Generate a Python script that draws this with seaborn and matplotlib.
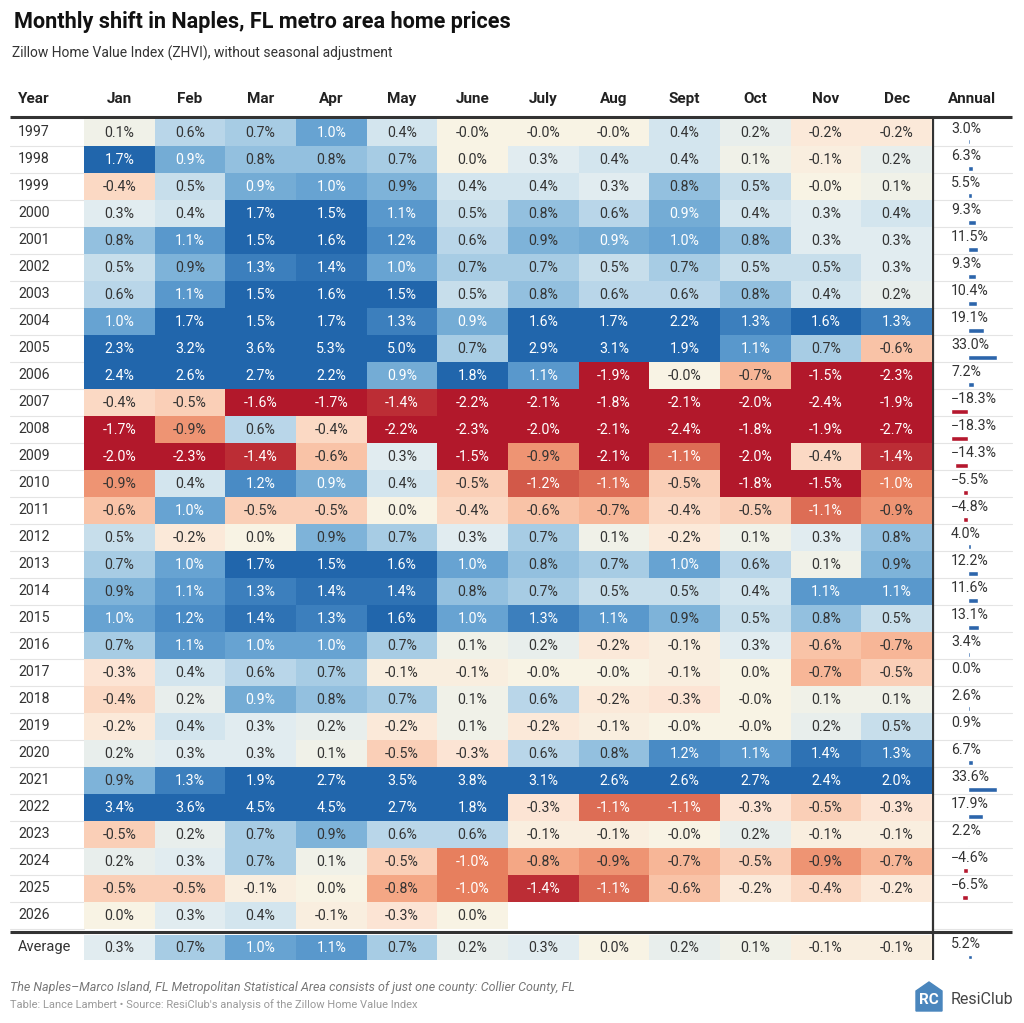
import numpy as np
import pandas as pd
import matplotlib.pyplot as plt
import seaborn as sns
from matplotlib.colors import LinearSegmentedColormap
from matplotlib.patches import Polygon

months = ['Jan', 'Feb', 'Mar', 'Apr', 'May', 'June', 'July', 'Aug', 'Sept', 'Oct', 'Nov', 'Dec']
years = list(range(1997, 2027))
nan = np.nan

# monthly % change, one list per year (Jan..Dec)
changes = [
    [0.1, 0.6, 0.7, 1.0, 0.4, -0.0, -0.0, -0.0, 0.4, 0.2, -0.2, -0.2],
    [1.7, 0.94, 0.8, 0.8, 0.7, 0.0, 0.3, 0.4, 0.4, 0.1, -0.1, 0.2],
    [-0.4, 0.5, 0.94, 1.0, 0.9, 0.4, 0.4, 0.3, 0.8, 0.5, -0.0, 0.1],
    [0.3, 0.4, 1.7, 1.5, 1.1, 0.5, 0.8, 0.6, 0.94, 0.4, 0.3, 0.4],
    [0.8, 1.1, 1.5, 1.6, 1.2, 0.6, 0.9, 0.94, 1.0, 0.8, 0.3, 0.3],
    [0.5, 0.9, 1.3, 1.4, 1.0, 0.7, 0.7, 0.5, 0.7, 0.5, 0.5, 0.3],
    [0.6, 1.1, 1.5, 1.6, 1.5, 0.5, 0.8, 0.6, 0.6, 0.8, 0.4, 0.2],
    [1.0, 1.7, 1.5, 1.7, 1.3, 0.94, 1.6, 1.7, 2.2, 1.3, 1.6, 1.3],
    [2.3, 3.2, 3.6, 5.3, 5.0, 0.7, 2.9, 3.1, 1.9, 1.1, 0.7, -0.6],
    [2.4, 2.6, 2.7, 2.2, 0.94, 1.8, 1.1, -1.9, -0.0, -0.7, -1.5, -2.3],
    [-0.4, -0.5, -1.6, -1.7, -1.4, -2.2, -2.1, -1.8, -2.1, -2.0, -2.4, -1.9],
    [-1.7, -0.9, 0.6, -0.4, -2.2, -2.3, -2.0, -2.1, -2.4, -1.8, -1.9, -2.7],
    [-2.0, -2.3, -1.4, -0.6, 0.3, -1.5, -0.9, -2.1, -1.1, -2.0, -0.4, -1.4],
    [-0.9, 0.4, 1.2, 0.94, 0.4, -0.5, -1.2, -1.1, -0.5, -1.8, -1.5, -1.0],
    [-0.6, 1.0, -0.5, -0.5, 0.0, -0.4, -0.6, -0.7, -0.4, -0.5, -1.1, -0.9],
    [0.5, -0.2, 0.0, 0.9, 0.7, 0.3, 0.7, 0.1, -0.2, 0.1, 0.3, 0.8],
    [0.7, 1.0, 1.7, 1.5, 1.6, 1.0, 0.8, 0.7, 1.0, 0.6, 0.1, 0.9],
    [0.9, 1.1, 1.3, 1.4, 1.4, 0.8, 0.7, 0.5, 0.5, 0.4, 1.1, 1.1],
    [1.0, 1.2, 1.4, 1.3, 1.6, 1.0, 1.3, 1.1, 0.9, 0.5, 0.8, 0.5],
    [0.7, 1.1, 1.0, 1.0, 0.7, 0.1, 0.2, -0.2, -0.1, 0.3, -0.6, -0.7],
    [-0.3, 0.4, 0.6, 0.7, -0.1, -0.1, -0.0, -0.0, -0.1, 0.0, -0.7, -0.5],
    [-0.4, 0.2, 0.94, 0.8, 0.7, 0.1, 0.6, -0.2, -0.3, -0.0, 0.1, 0.1],
    [-0.2, 0.4, 0.3, 0.2, -0.2, 0.1, -0.2, -0.1, -0.0, -0.0, 0.2, 0.5],
    [0.2, 0.3, 0.3, 0.1, -0.5, -0.3, 0.6, 0.8, 1.2, 1.1, 1.4, 1.3],
    [0.9, 1.3, 1.9, 2.7, 3.5, 3.8, 3.1, 2.6, 2.6, 2.7, 2.4, 2.0],
    [3.4, 3.6, 4.5, 4.5, 2.7, 1.8, -0.3, -1.1, -1.1, -0.3, -0.5, -0.3],
    [-0.5, 0.2, 0.7, 0.9, 0.6, 0.6, -0.1, -0.1, -0.0, 0.2, -0.1, -0.1],
    [0.2, 0.3, 0.7, 0.1, -0.5, -1.0, -0.8, -0.9, -0.7, -0.5, -0.9, -0.7],
    [-0.5, -0.5, -0.1, 0.0, -0.8, -1.0, -1.4, -1.1, -0.6, -0.2, -0.4, -0.2],
    [0.0, 0.3, 0.4, -0.1, -0.3, 0.0, nan, nan, nan, nan, nan, nan],
]
annual = [3.0, 6.3, 5.5, 9.3, 11.5, 9.3, 10.4, 19.1, 33.0, 7.2, -18.3, -18.3, -14.3,
          -5.5, -4.8, 4.0, 12.2, 11.6, 13.1, 3.4, 0.0, 2.6, 0.9, 6.7, 33.6, 17.9,
          2.2, -4.6, -6.5, nan]
average = [0.3, 0.7, 1.0, 1.1, 0.7, 0.2, 0.3, 0.0, 0.2, 0.1, -0.1, -0.1]
average_annual = 5.2

W, H = 1024, 1023
TXT = '#333333'
BLUE, RED = '#2c65ab', '#b5172e'

cmap = LinearSegmentedColormap.from_list('rdbu_cream', [
    ((-1.5 + 1.5) / 3, '#b2182b'), ((-1.2 + 1.5) / 3, '#d35a4a'),
    ((-1.0 + 1.5) / 3, '#e8805f'), ((-0.8 + 1.5) / 3, '#f4a886'),
    ((-0.6 + 1.5) / 3, '#f9c4a8'), ((-0.3 + 1.5) / 3, '#fce4d4'),
    ((0.0 + 1.5) / 3, '#f8f3e4'), ((0.3 + 1.5) / 3, '#e1ecf0'),
    ((0.6 + 1.5) / 3, '#bad7e9'), ((0.8 + 1.5) / 3, '#94c1df'),
    ((1.0 + 1.5) / 3, '#68a4d2'), ((1.2 + 1.5) / 3, '#4a8cc5'),
    ((1.5 + 1.5) / 3, '#2166ac')])

sns.set_style('white')
plt.rcParams['font.family'] = ['Roboto', 'DejaVu Sans']

fig = plt.figure(figsize=(W / 100, H / 100), dpi=100)
bg = fig.add_axes([0, 0, 1, 1])
bg.set_xlim(0, W)
bg.set_ylim(H, 0)
bg.axis('off')


def add_ax(x0, y0, x1, y1):
    a = fig.add_axes([x0 / W, 1 - y1 / H, (x1 - x0) / W, (y1 - y0) / H])
    a.patch.set_alpha(0)
    return a


def fmt(v):
    return f'{v:.1f}%'


TOP, ROW = 118.5, 27.0
X0, X1 = 84, 932
n = len(years)
bottom = TOP + ROW * n

# titles
bg.text(14, 22, 'Monthly shift in Naples, FL metro area home prices', fontsize=15.6,
        fontweight='bold', color='#111111', va='center')
bg.text(12, 53, 'Zillow Home Value Index (ZHVI), without seasonal adjustment',
        fontsize=10, color=TXT, va='center')

# header
colw = (X1 - X0) / 12
bg.text(18, 99, 'Year', fontsize=11, fontweight='bold', color='#222222', va='center')
for j, m in enumerate(months):
    bg.text(X0 + colw * (j + 0.5), 99, m, fontsize=11, fontweight='bold',
            color='#222222', ha='center', va='center')
bg.text(972, 99, 'Annual', fontsize=11, fontweight='bold', color='#222222',
        ha='center', va='center')

# faint row separators
for k in range(1, n + 1):
    y = TOP + ROW * k
    bg.plot([10, X0], [y, y], color='#e4e4e4', lw=0.8)
    bg.plot([933, 1012], [y, y], color='#e4e4e4', lw=0.8)

# heatmap body
df = pd.DataFrame(changes, index=years, columns=months)
hm = add_ax(X0, TOP, X1, bottom)
sns.heatmap(df, ax=hm, cmap=cmap, vmin=-1.5, vmax=1.5, cbar=False,
            xticklabels=False, yticklabels=False)
hm.set_xlabel('')
hm.set_ylabel('')
for i in range(n):
    for j in range(12):
        v = df.iloc[i, j]
        if np.isnan(v):
            continue
        c = 'white' if abs(v) >= 0.93 else TXT
        hm.text(j + 0.5, i + 0.52, fmt(v), ha='center', va='center', fontsize=10.2, color=c)

for i, y in enumerate(years):
    bg.text(18, TOP + ROW * (i + 0.5), str(y), fontsize=10.2, color=TXT, va='center')

# average row
AV0, AV1 = 935, 960
avg_df = pd.DataFrame([average], index=['Average'], columns=months)
av = add_ax(X0, AV0, X1, AV1)
sns.heatmap(avg_df, ax=av, cmap=cmap, vmin=-1.5, vmax=1.5, cbar=False,
            xticklabels=False, yticklabels=False)
av.set_xlabel('')
av.set_ylabel('')
for j, v in enumerate(average):
    c = 'white' if abs(v) >= 0.93 else TXT
    av.text(j + 0.5, 0.5, fmt(v), ha='center', va='center', fontsize=10.2, color=c)
bg.text(18, (AV0 + AV1) / 2, 'Average', fontsize=10.5, color=TXT, va='center')

# annual column: text + small bars
XA0, XA1, ZERO, PXPCT = 940, 1012, 967.5, 0.88
xlim = (-(ZERO - XA0) / PXPCT, (XA1 - ZERO) / PXPCT)
ann_df = pd.DataFrame({'year': [str(y) for y in years], 'annual': annual}).dropna()
ann_df['sign'] = np.where(ann_df['annual'] < 0, 'neg', 'pos')
aa = add_ax(XA0, TOP, XA1, bottom)
sns.barplot(data=ann_df, x='annual', y='year', hue='sign', order=[str(y) for y in years],
            palette={'pos': BLUE, 'neg': RED}, orient='h', width=0.17, dodge=False,
            saturation=1, legend=False, ax=aa)
aa.set_xlim(*xlim)
aa.set_ylim(n - 1 + 0.15, -0.85)
aa.axis('off')
for i, v in enumerate(annual):
    if np.isnan(v):
        continue
    bg.text(951, TOP + ROW * i + 10.5, fmt(v).replace('-', '\u2212'), fontsize=10.2,
            color=TXT, va='center')

avg_ann = pd.DataFrame({'row': ['Average'], 'annual': [average_annual]})
ab = add_ax(XA0, AV0, XA1, AV1)
sns.barplot(data=avg_ann, x='annual', y='row', orient='h', width=0.18, color=BLUE,
            saturation=1, ax=ab)
ab.set_xlim(*xlim)
ab.set_ylim(0.12, -0.88)
ab.axis('off')
bg.text(951, AV0 + 8.5, fmt(average_annual), fontsize=10.2, color=TXT, va='center')

# heavy rules
bg.plot([10, 1012], [117, 117], color='#333333', lw=2.2, solid_capstyle='butt')
bg.plot([10, 1012], [932, 932], color='#333333', lw=2.2, solid_capstyle='butt')
bg.plot([933, 933], [117, 960], color='#333333', lw=1.6, solid_capstyle='butt')

# footer
bg.text(10, 987, 'The Naples\u2013Marco Island, FL Metropolitan Statistical Area consists of just one county: Collier County, FL',
        fontsize=9, style='italic', color='#777777', va='center')
bg.text(10, 1005, "Table: Lance Lambert \u2022 Source: ResiClub's analysis of the Zillow Home Value Index",
        fontsize=8, color='#999999', va='center')

# logo
bg.add_patch(Polygon([[916, 991], [929, 982], [942, 991], [942, 1011], [916, 1011]],
                     closed=True, color='#4a86bd'))
bg.text(929, 1000, 'RC', fontsize=11, fontweight='bold', color='white',
        ha='center', va='center')
bg.text(951, 1000, 'ResiClub', fontsize=11.5, color='#444444', va='center')

fig.savefig('out.png', dpi=100)
